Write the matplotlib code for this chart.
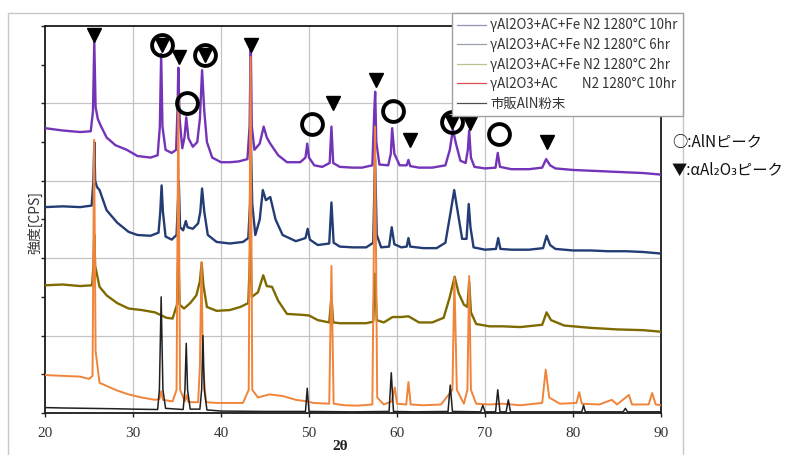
import matplotlib
matplotlib.use("Agg")
import matplotlib.pyplot as plt
from matplotlib.patches import Rectangle
from matplotlib.ticker import MultipleLocator

# ---------------- datos ----------------
# 2theta, intensidad (unidades arbitrarias, curvas desplazadas)
fe10_x = [20, 22, 24, 25.2, 25.45, 25.6, 25.75, 26.0, 26.3, 27, 28, 29.3, 30.5, 32, 32.8,
          33.05, 33.2, 33.35, 33.7, 34.4, 34.9, 35.05, 35.15, 35.3, 35.6, 35.85, 36.05, 36.3,
          36.8, 37.3, 37.6, 37.85, 38.1, 38.4, 39, 40, 41, 42, 43.0, 43.25, 43.38, 43.5, 43.8,
          44.4, 44.85, 45.2, 45.6, 46.5, 47.5, 49, 49.6, 49.8, 50.0, 50.6, 51.5, 52.35, 52.55,
          52.75, 53.5, 55, 56, 57.2, 57.42, 57.52, 57.65, 58, 59, 59.3, 59.45, 59.7, 60.3, 61.1,
          61.3, 61.5, 62.5, 64, 65.5, 66.0, 66.35, 66.7, 67.2, 67.8, 68.05, 68.2, 68.4, 68.8, 70,
          71.2, 71.45, 71.7, 73, 75, 76.5, 76.95, 77.4, 78, 80, 82, 84, 86, 88, 90]
fe10_y = [3680, 3650, 3630, 3640, 3900, 4800, 3950, 3800, 3720, 3560, 3460, 3400, 3320, 3300, 3330,
          3700, 4640, 3700, 3400, 3360, 3400, 3900, 4460, 3800, 3420, 3560, 3820, 3550,
          3440, 3500, 3800, 4430, 3900, 3500, 3300, 3240, 3240, 3250, 3280, 3700, 4780, 3700, 3400,
          3480, 3700, 3560, 3480, 3330, 3240, 3240, 3300, 3480, 3300, 3200, 3180, 3230, 3700,
          3230, 3180, 3170, 3170, 3200, 3900, 4150, 3500, 3210, 3200, 3350, 3680, 3350, 3200, 3200,
          3270, 3190, 3170, 3170, 3200, 3400, 3660, 3480, 3260, 3230, 3400, 3650, 3300, 3180, 3160,
          3170, 3360, 3180, 3150, 3150, 3170, 3280, 3200, 3160, 3140, 3130, 3120, 3110, 3100, 3080]

fe6_x = [20, 22, 24, 25.3, 25.5, 25.6, 25.7, 25.9, 26.2, 27, 28.2, 29.5, 30.5, 32, 32.9,
         33.1, 33.25, 33.4, 33.7, 34.4, 34.95, 35.1, 35.2, 35.35, 35.7, 36.0, 36.2, 36.8, 37.4,
         37.65, 37.85, 38.1, 38.5, 39.5, 41, 42.5, 43.1, 43.3, 43.4, 43.55, 43.9, 44.4, 44.75,
         45.1, 45.6, 46.2, 47, 48.5, 49.6, 49.85, 50.1, 51, 52.3, 52.55, 52.8, 53.5, 55, 56.5,
         57.3, 57.5, 57.7, 58.2, 59.1, 59.4, 59.7, 60.5, 61.1, 61.3, 61.5, 63, 64.5, 65.5, 66.1,
         66.5, 66.9, 67.4, 67.9, 68.15, 68.35, 68.7, 70, 71.25, 71.5, 71.75, 73, 75, 76.6, 77.0,
         77.4, 78, 80, 82, 84, 86, 88, 90]
fe6_y = [2660, 2670, 2660, 2680, 3000, 3500, 3000, 2920, 2880, 2620, 2460, 2340, 2300, 2290, 2330,
         2600, 2940, 2600, 2280, 2240, 2300, 2700, 3000, 2400, 2360, 2480, 2400, 2380, 2450,
         2600, 2900, 2600, 2300, 2210, 2190, 2210, 2260, 2700, 3500, 2700, 2300, 2500, 2880,
         2750, 2790, 2500, 2300, 2220, 2260, 2380, 2240, 2170, 2190, 2720, 2200, 2150, 2140, 2140,
         2200, 3300, 2300, 2140, 2150, 2400, 2180, 2140, 2150, 2260, 2150, 2130, 2130, 2200, 2600,
         2880, 2600, 2250, 2250, 2700, 2400, 2140, 2110, 2120, 2260, 2120, 2110, 2110, 2130, 2290,
         2170, 2120, 2100, 2100, 2090, 2090, 2080, 2060]

fe2_x = [20, 22, 24, 25.35, 25.5, 25.6, 25.7, 26.2, 27, 28.2, 29.5, 31, 32.5, 33.8, 34.5,
         35.0, 35.15, 35.3, 35.8, 36.5, 37.2, 37.6, 37.8, 38.0, 38.4, 39.5, 41, 42.2, 43.1,
         43.35, 43.5, 44.2, 44.8, 45.2, 45.8, 46.5, 47.5, 49, 50, 51, 52.3, 52.55, 52.75, 53.5,
         55, 56.5, 57.3, 57.5, 57.7, 58.5, 59.5, 60.5, 61.3, 62.5, 64, 65.3, 66.0, 66.55, 67.0,
         67.6, 68.0, 68.2, 68.4, 69, 70.5, 72, 74, 76.5, 77.0, 77.5, 79, 82, 85, 88, 90]
fe2_y = [1650, 1660, 1640, 1650, 1900, 2300, 1900, 1630, 1520, 1420, 1350, 1330, 1300, 1230, 1220,
         1400, 2100, 1400, 1350, 1420, 1520, 1700, 1940, 1650, 1370, 1320, 1330, 1370, 1420,
         2200, 1500, 1560, 1780, 1640, 1630, 1450, 1280, 1270, 1260, 1200, 1170, 1500, 1170, 1160,
         1160, 1160, 1180, 1800, 1200, 1170, 1240, 1240, 1250, 1170, 1170, 1230, 1500, 1760, 1550,
         1400, 1370, 1700, 1300, 1150, 1120, 1120, 1110, 1140, 1300, 1200, 1130, 1100, 1080, 1070, 1050]

ac_x = [20, 22, 24, 25.0, 25.4, 25.58, 25.75, 26.2, 27, 28.2, 29.5, 31, 32.5, 33.0, 33.2, 33.4,
        34.5, 34.95, 35.15, 35.35, 35.9, 36.1, 36.3, 37.4, 37.6, 37.78, 37.95, 38.3, 39.5, 41,
        42.5, 43.15, 43.36, 43.55, 44.2, 45.5, 47, 48.5, 49.8, 50.5, 52.3, 52.55, 52.8, 54, 55.5,
        57.2, 57.5, 57.75, 58.5, 59.4, 59.75, 60.0, 61.05, 61.3, 61.55, 63, 65, 66.3, 66.52,
        66.8, 67.6, 68.0, 68.2, 68.4, 69, 70.5, 72, 74, 76.5, 76.9, 77.3, 78.5, 80.4, 80.7, 81.0,
        83, 84.4, 85.0, 86.35, 86.7, 88.6, 89.0, 89.4, 90]
ac_y = [490, 480, 470, 440, 480, 3530, 800, 390, 350, 290, 240, 200, 170, 180, 280, 170,
        150, 300, 4100, 300, 150, 230, 140, 140, 600, 1950, 600, 140, 130, 130,
        130, 300, 4600, 300, 200, 240, 220, 170, 150, 130, 120, 1900, 120, 100, 95,
        110, 3700, 200, 110, 150, 330, 120, 110, 400, 110, 100, 110, 300, 1750,
        300, 120, 300, 1770, 300, 120, 110, 120, 100, 130, 560, 200, 120, 130, 270, 120,
        110, 170, 110, 233, 110, 110, 258, 110, 100]

aln_x = [20, 22, 25, 28, 30, 32.8, 33.0, 33.2, 33.4, 33.7, 35.7, 35.9, 36.05, 36.2, 36.5, 37.6,
         37.8, 37.95, 38.1, 38.4, 40, 45, 49.6, 49.8, 50.0, 55, 59.1, 59.35, 59.6, 62, 65.8,
         66.05, 66.3, 69.5, 69.75, 70.0, 71.2, 71.45, 71.7, 72.4, 72.65, 72.9, 75, 81.0, 81.2,
         81.4, 85.7, 85.95, 86.2, 90]
aln_y = [70, 65, 60, 55, 50, 45, 300, 1500, 300, 60, 45, 300, 900, 300, 50, 50,
         300, 1000, 300, 40, 25, 20, 20, 320, 20, 15, 20, 520, 20, 15, 20,
         360, 20, 15, 100, 15, 15, 300, 15, 15, 170, 15, 15, 15, 100,
         15, 15, 60, 15, 15]

# marcas de picos
alumina_x = [25.6, 33.25, 35.2, 38.15, 43.4, 52.7, 57.6, 61.5, 66.25, 68.3, 77.0]
alumina_y = [4880, 4760, 4600, 4630, 4750, 4000, 4300, 3530, 3760, 3750, 3500]
aln_mark_x = [33.25, 36.15, 38.15, 50.3, 59.6, 66.25, 71.6]
aln_mark_y = [4760, 4000, 4630, 3730, 3900, 3760, 3600]

xticks = [20, 30, 40, 50, 60, 70, 80, 90]
labels = ["γAl2O3+AC+Fe N2 1280°C 10hr",
          "γAl2O3+AC+Fe N2 1280°C 6hr",
          "γAl2O3+AC+Fe N2 1280°C 2hr",
          "γAl2O3+AC        N2 1280°C 10hr",
          "市販AlN粉末"]

jp = ['Noto Sans CJK JP', 'DejaVu Sans']

# ---------------- figura ----------------
fig = plt.figure(figsize=(7.92, 4.55), dpi=100)
ax = fig.add_axes([45/792, 1-413/455, (661-45)/792, (413-26)/455])

l1, = ax.plot(fe10_x, fe10_y, color='#7434b8', lw=1.7, zorder=3)
l2, = ax.plot(fe6_x, fe6_y, color='#243c74', lw=1.7, zorder=3)
l3, = ax.plot(fe2_x, fe2_y, color='#7f6a00', lw=1.7, zorder=3)
l4, = ax.plot(ac_x, ac_y, color='#f0843a', lw=1.4, zorder=4)
l5, = ax.plot(aln_x, aln_y, color='#202020', lw=1.1, zorder=5)

ax.plot(aln_mark_x, aln_mark_y, ls='none', marker='o', ms=15, mfc='none',
        mec='black', mew=2.8, zorder=6, clip_on=False)
ax.plot(alumina_x, alumina_y, ls='none', marker='v', ms=10, color='black',
        zorder=7, clip_on=False)

ax.set_xlim(20, 90)
ax.set_ylim(0, 5000)
ax.set_xticks(xticks)
ax.set_xticklabels([str(t) for t in xticks], family='Liberation Serif', fontsize=11, color='#333333')
ax.yaxis.set_major_locator(MultipleLocator(1000))
ax.yaxis.set_minor_locator(MultipleLocator(500))
ax.set_yticklabels([])
ax.tick_params(axis='both', which='both', direction='out', length=3, width=1, color='#222222')
ax.tick_params(axis='x', pad=7)
# rejilla gris clara
for xv in xticks[1:-1]:
    ax.axvline(xv, color='#c4c4c4', lw=0.9, zorder=1)
for yv in [1000, 2000, 3000, 4000]:
    ax.axhline(yv, color='#c4c4c4', lw=0.9, zorder=1)
for s in ax.spines.values():
    s.set_color('#1a1a1a')
    s.set_linewidth(1.3)

# handles claros en la leyenda
hcol = ['#9a8fb0', '#9aa0aa', '#b8c48a', '#e05050', '#505050']
hand = [plt.Line2D([], [], color=c, lw=0.9) for c in hcol]
leg = fig.legend(hand, labels, loc='upper right', bbox_to_anchor=(683/792, 1-13/455),
                 bbox_transform=fig.transFigure, prop={'family': jp, 'size': 9.6},
                 frameon=True, fancybox=False, edgecolor='#a0a0a0', framealpha=1,
                 handlelength=2.2, handletextpad=0.3, labelspacing=0.42, borderpad=0.4,
                 borderaxespad=0)
for t in leg.get_texts():
    t.set_color('#333333')
leg.set_zorder(10)

# marco exterior gris
fig.patches.append(Rectangle((8/792, -0.05), (683-8)/792, 1.05-13/455, fill=False,
                             ec='#c8c8c8', lw=1.0, transform=fig.transFigure, zorder=0))

fig.text(672/792, 1-143/455, '○:AlNピーク', family=jp, fontsize=11, va='center', color='#111111')
fig.text(672/792, 1-170/455, '▼:αAl₂O₃ピーク', family=jp, fontsize=11, va='center', color='#111111')

fig.text(35/792, 1-222/455, '強度[CPS]', family=jp, fontsize=10, rotation=90,
         ha='center', va='center', color='#333333')
fig.text(340/792, 2/455, '2θ', family='Liberation Serif', fontsize=11, weight='bold',
         ha='center', va='bottom', color='#222222')

fig.savefig('out.png', dpi=100)
